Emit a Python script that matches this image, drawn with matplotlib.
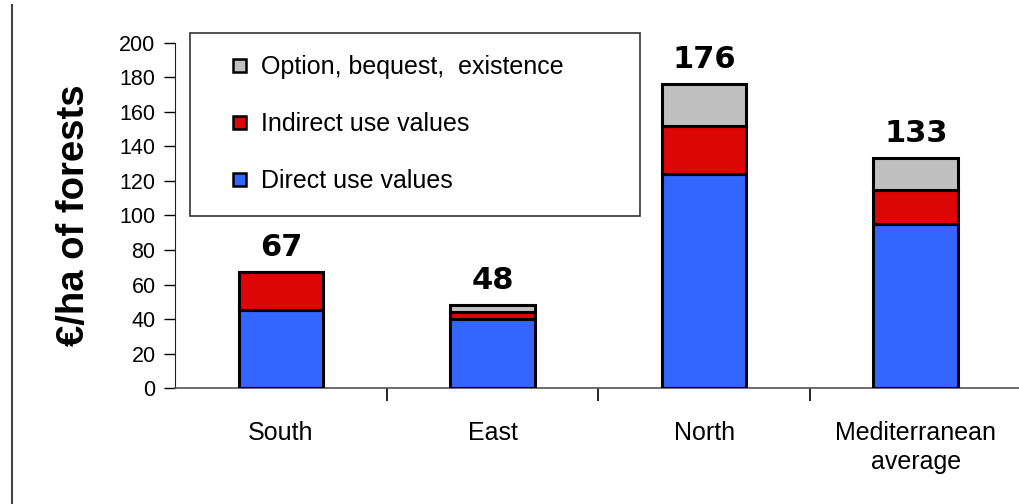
import numpy as np
import matplotlib.pyplot as plt
import matplotlib.patches as mpatches
from matplotlib.legend_handler import HandlerPatch
from matplotlib.lines import Line2D

# values
regions = ['South', 'East', 'North', 'Mediterranean\naverage']
direct = [45, 40, 124, 95]
indirect = [22, 4, 28, 20]
option = [0, 4, 24, 18]
totals = [67, 48, 176, 133]

blue = '#3366FF'
red = '#DC0606'
grey = '#C0C0C0'

fig = plt.figure(figsize=(10.2, 5.04), dpi=100)
ax = fig.add_axes([0.1716, 0.230, 0.83, 0.685])

x = np.arange(len(regions))
w = 0.4
direct = np.array(direct)
indirect = np.array(indirect)
option = np.array(option)

ax.bar(x, direct, w, color=blue, edgecolor='black', linewidth=2.2, zorder=3)
ax.bar(x, indirect, w, bottom=direct, color=red, edgecolor='black', linewidth=2.2, zorder=3)
ax.bar(x, option, w, bottom=direct + indirect, color=grey, edgecolor='black', linewidth=2.2, zorder=3)

# totals on top of each bar
for xi, t in zip(x, totals):
    ax.text(xi, t + 9.5, str(t), ha='center', va='baseline', fontsize=22,
            fontweight='bold', family='DejaVu Sans')

ax.set_xlim(-0.5, 3.5)
ax.set_ylim(0, 200)
ax.set_yticks(range(0, 201, 20))
ax.tick_params(axis='y', labelsize=15.5, length=8, width=1, direction='out', pad=6)
ax.set_xticks(x)
ax.set_xticklabels(regions, fontsize=18, linespacing=1.25)
ax.tick_params(axis='x', length=0, pad=24)
ax.set_xticks([0.5, 1.5, 2.5], minor=True)
ax.tick_params(axis='x', which='minor', length=9, width=1.2, direction='out')
for lab in ax.get_xticklabels() + ax.get_yticklabels():
    lab.set_family('Liberation Sans')

for s in ['top', 'right']:
    ax.spines[s].set_visible(False)
ax.spines['left'].set_color('#222222')
ax.spines['bottom'].set_color('#555555')
ax.spines['bottom'].set_linewidth(1.2)

ax.set_ylabel('€/ha of forests', fontsize=27.5, fontweight='bold',
              family='Liberation Sans', labelpad=20)


# small square legend keys placed at the right end of the handle box
def square_key(legend, orig_handle, xdescent, ydescent, width, height, fontsize):
    s = 0.55 * fontsize
    return mpatches.Rectangle((-xdescent + width - s, -ydescent + (height - s) / 2), s, s)


handles = [mpatches.Patch(facecolor=grey, edgecolor='black', linewidth=1.8),
           mpatches.Patch(facecolor=red, edgecolor='black', linewidth=1.8),
           mpatches.Patch(facecolor=blue, edgecolor='black', linewidth=1.8)]
labels = ['Option, bequest,  existence', 'Indirect use values', 'Direct use values']
leg = ax.legend(handles, labels, loc='upper left', mode='expand',
                bbox_to_anchor=(0.0177, 0.522, 0.531, 0.507),
                handler_map={mpatches.Patch: HandlerPatch(patch_func=square_key)},
                frameon=True, fancybox=False, edgecolor='black',
                prop={'family': 'Liberation Sans', 'size': 18},
                handlelength=1.35, handleheight=0.7, handletextpad=0.6,
                labelspacing=1.32, borderpad=0.9, borderaxespad=0)
leg.get_frame().set_linewidth(1.2)

# slide border line at left
fig.add_artist(Line2D([0.012, 0.012], [0.0, 0.99], color='#444444', linewidth=1.5))

fig.savefig('out.png', dpi=100)
